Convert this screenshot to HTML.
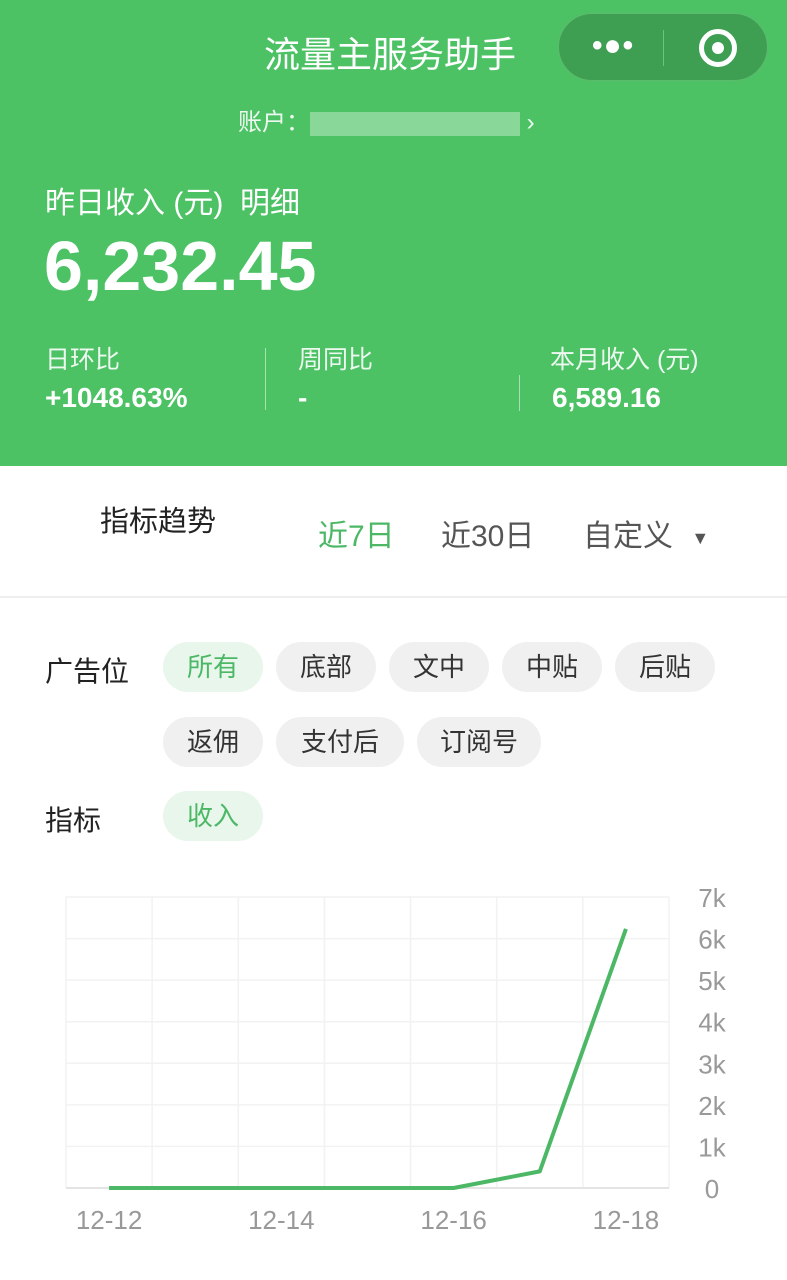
<!DOCTYPE html>
<html><head><meta charset="utf-8"><style>
*{margin:0;padding:0;box-sizing:border-box}
body{width:787px;height:1280px;background:#fff;font-family:"Liberation Sans","Noto Sans CJK SC",sans-serif;position:relative;overflow:hidden;color:#222}
.abs{position:absolute}
#hdr{left:0;top:0;width:787px;height:466px;background:#4cc265;color:#fff}
.chip{position:absolute;height:50px;border-radius:25px;background:#f0f0f0;color:#333;font-size:26px;line-height:50px;text-align:center}
.wt{color:rgba(255,255,255,.9)}
</style></head><body>
<div id="hdr" class="abs">
  <div class="abs" style="left:264px;top:26px;font-size:36px">流量主服务助手</div>
  <div class="abs" style="left:558px;top:13px;width:210px;height:68px;border-radius:34px;background:#3e9e52;border:1px solid #5cbb6e">
    <div class="abs" style="left:33px;top:20px;font-size:30px;line-height:24px;letter-spacing:1px;font-weight:bold">•●•</div>
    <div class="abs" style="left:104px;top:16px;width:1px;height:36px;background:#6cc37e"></div>
    <div class="abs" style="left:140px;top:15px;width:38px;height:38px;border:5px solid #fff;border-radius:50%"><div class="abs" style="left:8px;top:8px;width:12px;height:12px;background:#fff;border-radius:50%"></div></div>
  </div>
  <div class="abs wt" style="left:238px;top:102px;font-size:24px">账户：<span style="display:inline-block;width:210px;height:24px;background:rgba(255,255,255,.35);vertical-align:middle"></span> ›</div>
  <div class="abs" style="left:45px;top:178px;font-size:30px">昨日收入 (元) &nbsp;明细</div>
  <div class="abs" style="left:44px;top:226px;font-size:70px;font-weight:bold">6,232.45</div>
  <div class="abs wt" style="left:45px;top:340px;font-size:25px">日环比</div>
  <div class="abs" style="left:45px;top:382px;font-size:28px;font-weight:bold">+1048.63%</div>
  <div class="abs" style="left:265px;top:348px;width:1px;height:62px;background:rgba(255,255,255,.5)"></div>
  <div class="abs wt" style="left:298px;top:340px;font-size:25px">周同比</div>
  <div class="abs" style="left:298px;top:382px;font-size:28px;font-weight:bold">-</div>
  <div class="abs" style="left:519px;top:375px;width:1px;height:36px;background:rgba(255,255,255,.5)"></div>
  <div class="abs wt" style="left:550px;top:340px;font-size:25px">本月收入 (元)</div>
  <div class="abs" style="left:552px;top:382px;font-size:28px;font-weight:bold">6,589.16</div>
</div>
<div class="abs" style="left:100px;top:498px;font-size:29px">指标趋势</div>
<div class="abs" style="left:318px;top:511px;font-size:30px;color:#4cb866">近7日</div>
<div class="abs" style="left:441px;top:511px;font-size:30px;color:#555">近30日</div>
<div class="abs" style="left:583px;top:511px;font-size:30px;color:#555">自定义 <span style="font-size:18px;margin-left:10px;vertical-align:middle">▼</span></div>
<div class="abs" style="left:0;top:596px;width:787px;height:2px;background:#eee"></div>
<div class="abs" style="left:45px;top:650px;font-size:28px">广告位</div>
<div class="chip" style="left:163px;top:642px;width:100px;background:#e8f6ec;color:#4cb866">所有</div>
<div class="chip" style="left:276px;top:642px;width:100px">底部</div>
<div class="chip" style="left:389px;top:642px;width:100px">文中</div>
<div class="chip" style="left:502px;top:642px;width:100px">中贴</div>
<div class="chip" style="left:615px;top:642px;width:100px">后贴</div>
<div class="chip" style="left:163px;top:717px;width:100px">返佣</div>
<div class="chip" style="left:276px;top:717px;width:128px">支付后</div>
<div class="chip" style="left:417px;top:717px;width:124px">订阅号</div>
<div class="abs" style="left:45px;top:799px;font-size:28px">指标</div>
<div class="chip" style="left:163px;top:791px;width:100px;background:#e8f6ec;color:#4cb866">收入</div>
<svg id="chart" class="abs" style="left:0;top:870px" width="787" height="380"></svg>
<script>
const categories=["12-12","12-13","12-14","12-15","12-16","12-17","12-18"];
const values=[0,0,0,0,0,400,6232];
const yTicks=[0,1000,2000,3000,4000,5000,6000,7000];
const yTickLabels=["0","1k","2k","3k","4k","5k","6k","7k"];
const xLabelIdx=[0,2,4,6];
const svg=document.getElementById('chart');const NS='http://www.w3.org/2000/svg';
const L=66,R=669,T=27,B=318,OY=870;
const step=(R-L)/categories.length;
const x=i=>L+step*(i+0.5);
const y=v=>B-(v/7000)*(B-T);
function mk(t,a,p){const e=document.createElementNS(NS,t);for(const k in a)e.setAttribute(k,a[k]);(p||svg).appendChild(e);return e;}
for(let i=0;i<=categories.length;i++){const g=mk('line',{x1:L+step*i,x2:L+step*i,y1:T,y2:B,stroke:'#f2f2f2','stroke-width':1.5});

}
yTicks.forEach((v,i)=>{const g=mk('line',{x1:L,x2:R,y1:y(v),y2:y(v),stroke:i==0?'#e4e4e4':'#f2f2f2','stroke-width':i==0?2:1.5});


const t=mk('text',{x:712,y:y(v)+10,'text-anchor':'middle','font-size':26,fill:'#999','font-family':'Liberation Sans, sans-serif'});t.textContent=yTickLabels[i];

});
xLabelIdx.forEach(i=>{const t=mk('text',{x:x(i),y:1229-OY,'text-anchor':'middle','font-size':26,fill:'#999','font-family':'Liberation Sans, sans-serif'});t.textContent=categories[i];

});
const line=mk('polyline',{points:values.map((v,i)=>x(i)+','+y(v)).join(' '),fill:'none',stroke:'#4cb866','stroke-width':4,'stroke-linejoin':'round'});


</script>
</body></html>
